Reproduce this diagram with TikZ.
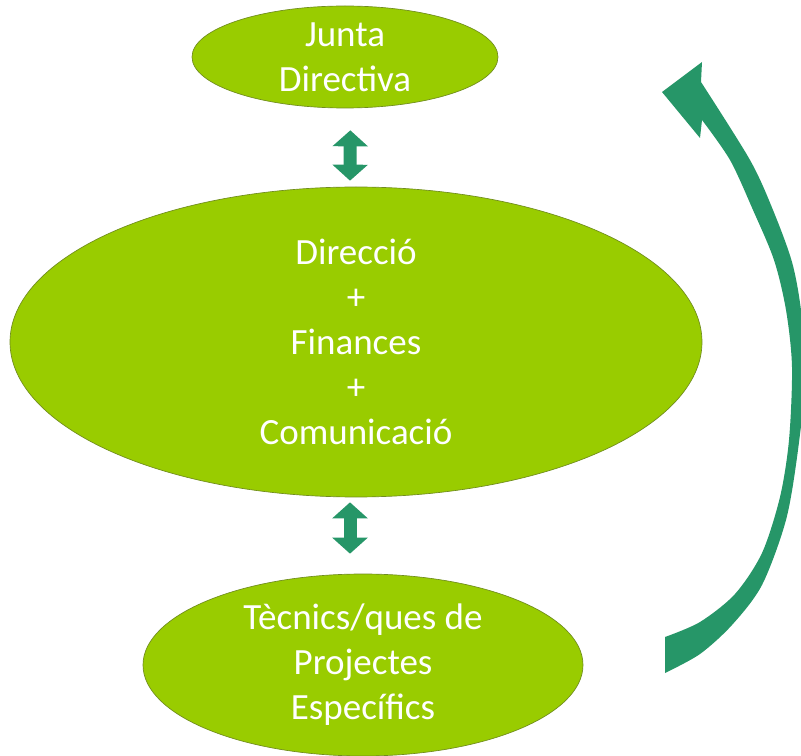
\documentclass[tikz,border=0pt]{standalone}
\usepackage{fontspec}
\setmainfont{Carlito}
\usepackage{tikz}
\usetikzlibrary{arrows.meta,shapes.geometric,positioning}
\definecolor{leaf}{RGB}{153,204,0}
\definecolor{leafline}{RGB}{112,140,30}
\definecolor{sea}{RGB}{38,150,104}
\tikzset{org style/.style={ellipse,fill=leaf,draw=leafline,line width=0.5pt,inner sep=0pt,text=white,align=center,font=\fontsize{27.75}{33.75}\selectfont},
	link style/.style={sea,line width=9.75pt,arrows={Triangle[width=26pt,length=12pt]-Triangle[width=26pt,length=12pt]}}}

\begin{document}
\begin{tikzpicture}[x=0.75pt,y=-0.75pt]
	\useasboundingbox (0,0) rectangle (801,756);
	\clip (0,0) rectangle (801,756);
	
	\node[org style,minimum width=229.5pt,minimum height=76.5pt] (junta) at (345,57) {Junta\\Directiva};
	\node[org style,minimum width=519pt,minimum height=232.5pt] (direccio) at (356,342) {Direcció\\+\\Finances\\+\\Comunicació};
	\node[org style,minimum width=330pt,minimum height=136.5pt] (tecnics) at (363,665) {Tècnics/ques de\\Projectes\\Específics};
	
	\draw[link style] ([xshift=4pt,yshift=-16.5pt]junta.south) -- ([xshift=-4.5pt,yshift=4.5pt]direccio.north);
	\draw[link style] ([xshift=-4.5pt,yshift=-3.75pt]direccio.south) -- ([xshift=-9.75pt,yshift=15pt]tecnics.north);
	
	\fill[sea] (662,92) -- (702,62) -- plot[smooth] coordinates {(701,82) (750,160) (773,210) (792,262) (801,310) (806,370) (798,450) (786,520) (762,585) (732,625) (700,654) (665,673)}
		-- plot[smooth] coordinates {(665,637) (700,622) (735,594) (762,553) (780,497) (789,440) (792,367) (786,310) (774,260) (753,210) (730,160) (702,120)}
		-- (700,138) -- cycle;
\end{tikzpicture}
\end{document}
